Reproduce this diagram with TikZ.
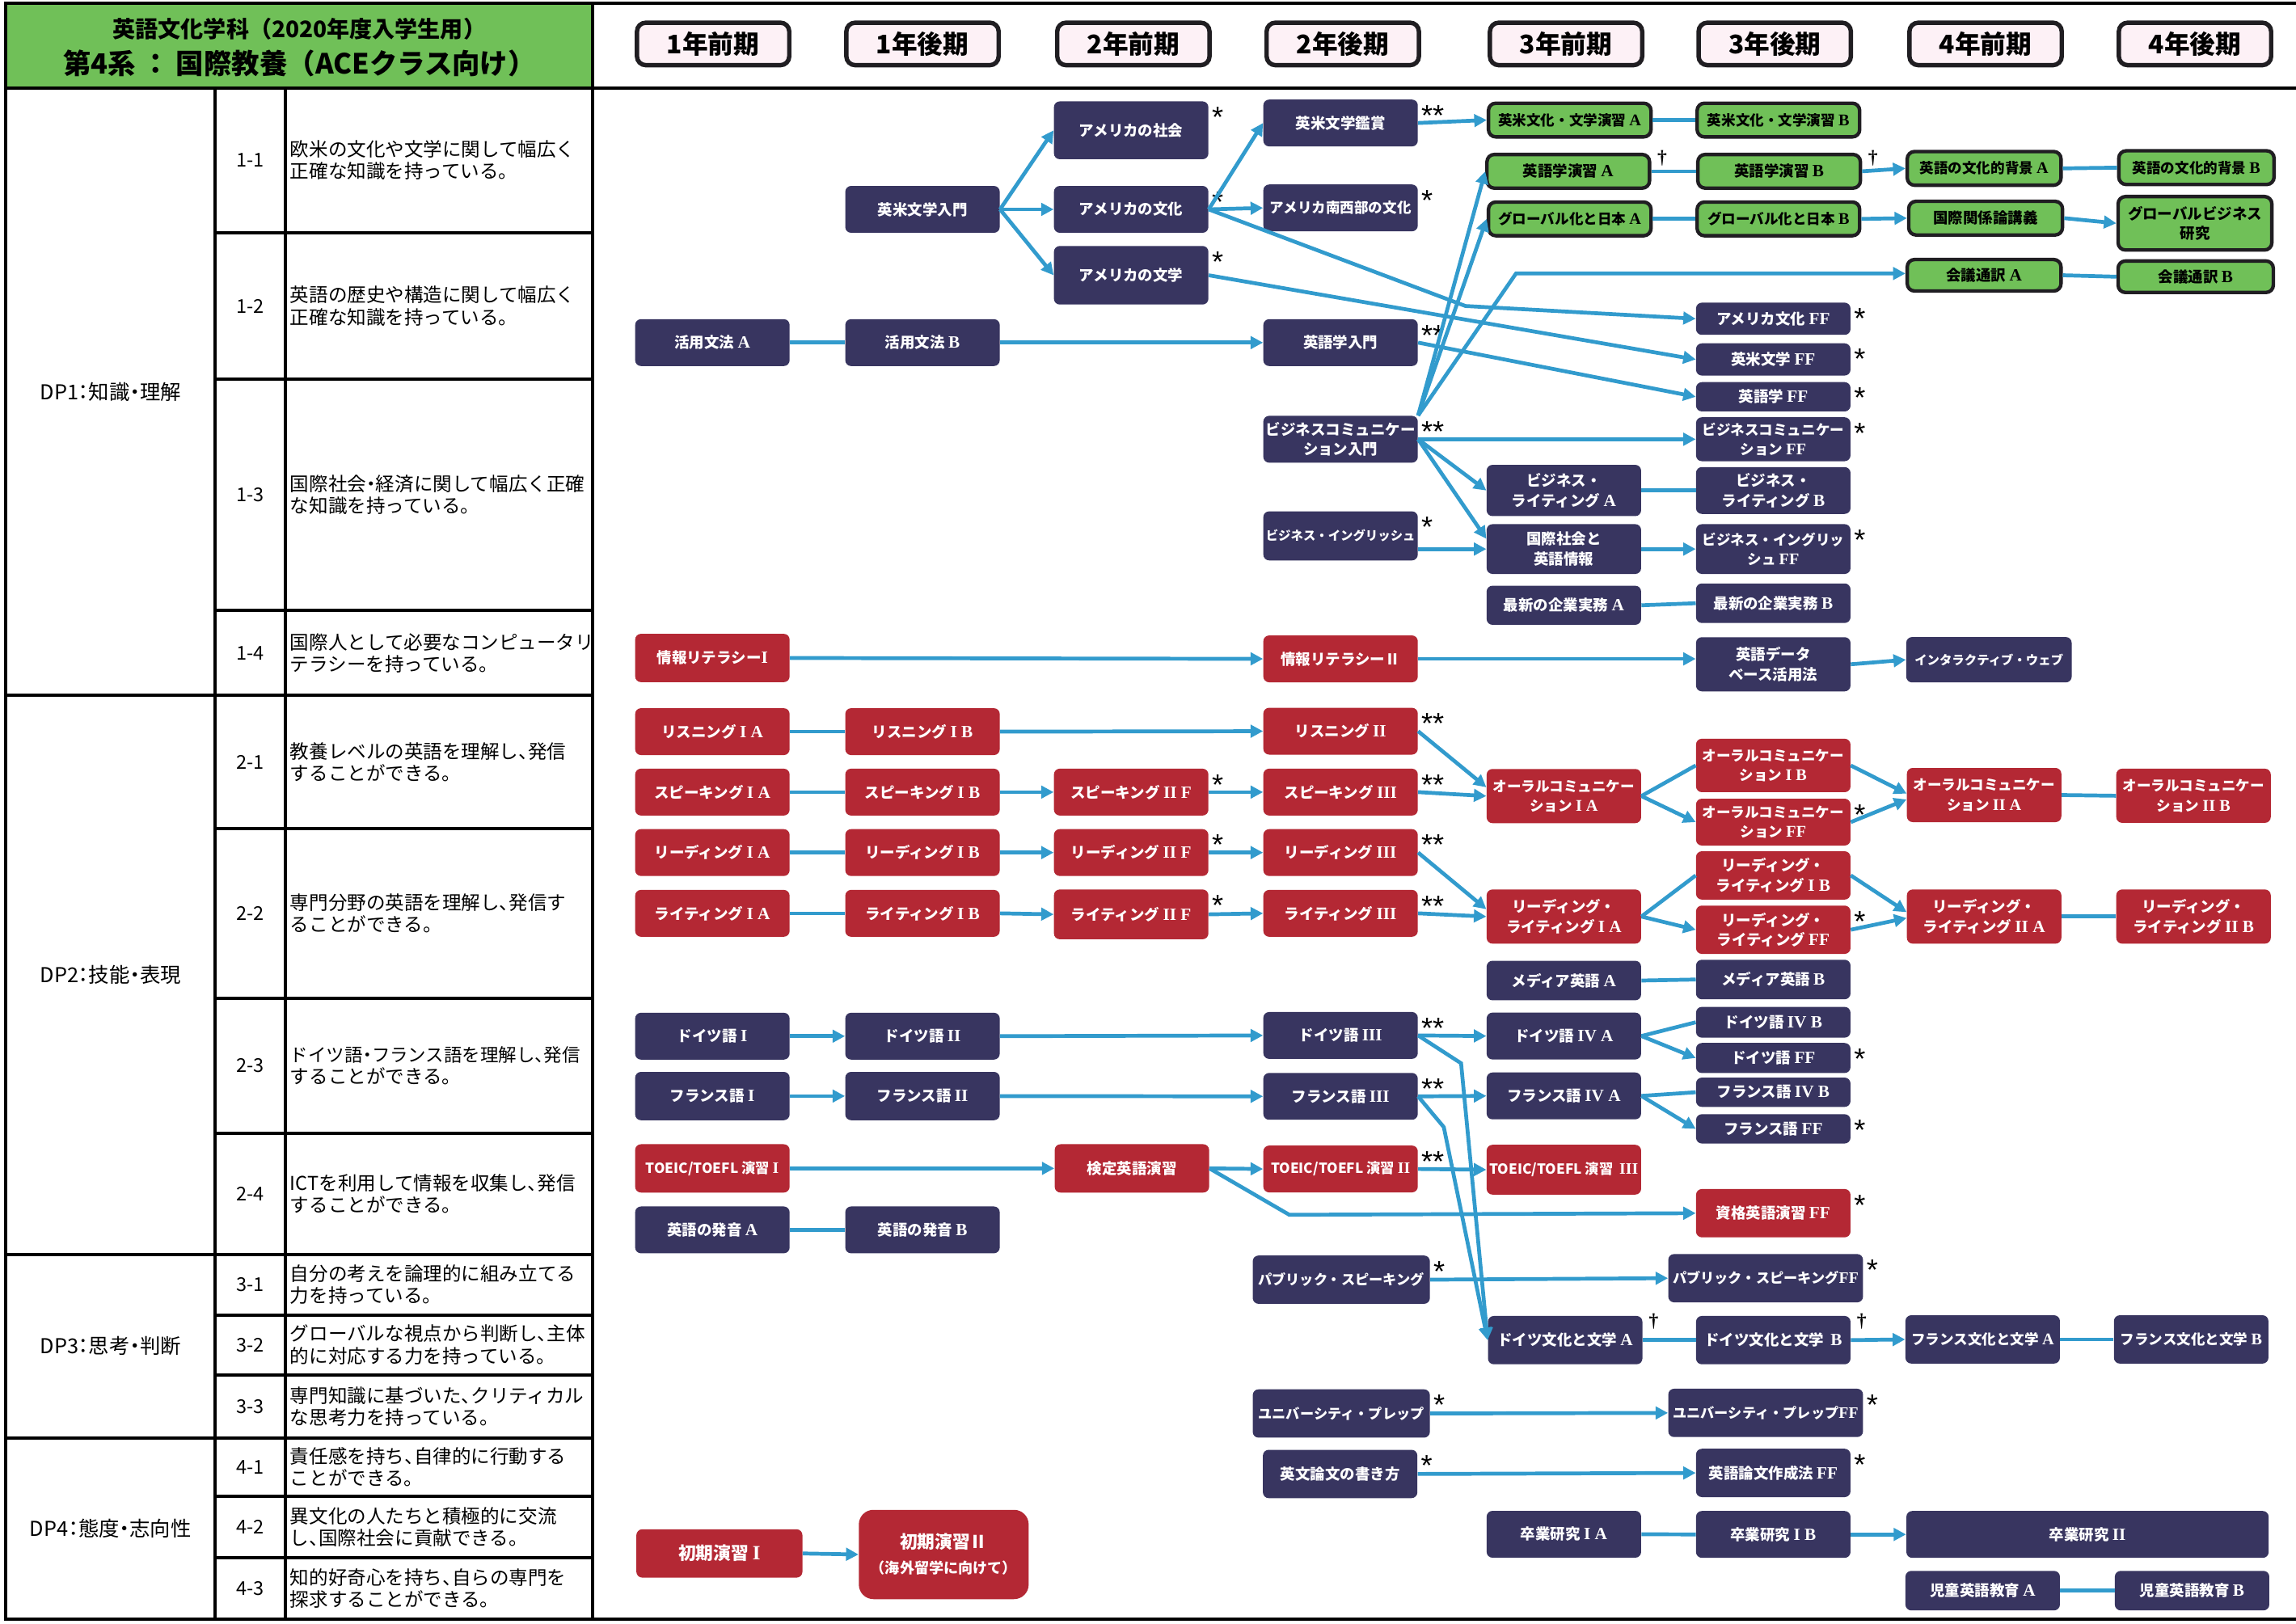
\documentclass[tikz,border=0pt]{standalone}
\usepackage{fontspec}
\setmainfont{Noto Sans CJK JP}
\newfontfamily\tabfont{Noto Sans CJK JP}[RawFeature=+halt]
\newfontfamily\rlfont{Liberation Serif}[Scale=1.15]
\newfontfamily\astfont{Liberation Sans}
\newfontfamily\dagfont{Liberation Serif}
\usetikzlibrary{arrows.meta}
\definecolor{navy}{RGB}{56,53,96}
\definecolor{crim}{RGB}{180,40,52}
\definecolor{leaf}{RGB}{112,192,88}
\definecolor{edge}{RGB}{32,30,34}
\definecolor{flow}{RGB}{50,155,205}
\definecolor{pinkbg}{RGB}{253,241,246}
\newcommand\rl[1]{{\rlfont\bfseries #1}}
\begin{document}
\begin{tikzpicture}[x=1pt,y=-1pt,
  crs/.style={rounded corners=4pt,minimum width=105.5pt,minimum height=32pt,inner sep=0pt,align=center,font=\fontsize{10.2}{13.5}\selectfont\bfseries},
  nv/.style={crs,fill=navy,text=white},
  rd/.style={crs,fill=crim,text=white},
  gr/.style={crs,fill=leaf,draw=edge,line width=2.4pt,text=black,minimum width=111pt,minimum height=23pt,rounded corners=5pt},
  md/.style={font=\fontsize{9.7}{13.5}\selectfont\bfseries},
  sm/.style={font=\fontsize{9.5}{12.5}\selectfont\bfseries},
  xs/.style={font=\fontsize{8.5}{11}\selectfont\bfseries},
  sem/.style={rounded corners=6pt,fill=pinkbg,draw=edge,line width=3pt,minimum width=104pt,minimum height=29pt,font=\fontsize{17.5}{17.5}\selectfont\bfseries},
  arr/.style={draw=flow,line width=2.6pt,-{Triangle[length=8.5pt,width=8.5pt]}},
  lnk/.style={draw=flow,line width=2.6pt},
  astr/.style={anchor=north west,inner sep=0pt,xshift=2pt,yshift=-4pt,draw=none,fill=none,text=black,font=\astfont\fontsize{20}{20}\selectfont},
  dag/.style={anchor=north west,inner sep=0pt,xshift=4pt,yshift=1.5pt,draw=none,fill=none,text=black,font=\dagfont\bfseries\fontsize{13}{13}\selectfont},
  s1/.style={label={[astr]north east:*}},
  s2/.style={label={[astr]north east:**}},
  dg/.style={label={[dag]north east:†}},
  rule/.style={line width=2.2pt,line cap=rect},
  cell/.style={anchor=west,align=left,inner sep=0pt,font=\tabfont\fontsize{13}{15}\selectfont},
  num/.style={inner sep=0pt,font=\tabfont\fontsize{13}{13}\selectfont},
  dp/.style={inner sep=0pt,font=\tabfont\fontsize{14}{14}\selectfont}]
\fill[white] (0,0) rectangle (1568,1109);
\useasboundingbox (0,0) rectangle (1568,1109);
\fill[leaf] (4,2) rectangle (404.5,60);
\draw[rule] (4,2) -- (1568,2);
\draw[rule] (4,60) -- (1568,60);
\draw[rule] (4,1106) -- (1568,1106);
\foreach \xa/\ya in {4/2,404.5/2,147/60,195/60} \draw[rule] (\xa,\ya) -- (\xa,1106);
\foreach \yb in {475,857,982} \draw[rule] (4,\yb) -- (404.5,\yb);
\foreach \yb in {159,259,417,566,682,774,898,939,1022,1064} \draw[rule] (147,\yb) -- (404.5,\yb);
\node[font=\fontsize{15.5}{15.5}\selectfont\bfseries] (dept) at (204.5,20) {英語文化学科（2020年度入学生用）};
\node[font=\fontsize{19}{19}\selectfont\bfseries] (track) at (204.5,43) {第4系 ： 国際教養（ACEクラス向け）};
\node[dp] (dp1) at (75.5,267.5) {DP1：知識・理解};
\node[dp] (dp2) at (75.5,666) {DP2：技能・表現};
\node[dp] (dp3) at (75.5,919.5) {DP3：思考・判断};
\node[dp] (dp4) at (75.5,1044) {DP4：態度・志向性};
\foreach \k/\yc/\txt in {
  1-1/109.5/{欧米の文化や文学に関して幅広く\\正確な知識を持っている。},
  1-2/209/{英語の歴史や構造に関して幅広く\\正確な知識を持っている。},
  1-3/338/{国際社会・経済に関して幅広く正確\\な知識を持っている。},
  1-4/446/{国際人として必要なコンピュータリ\\テラシーを持っている。},
  2-1/520.5/{教養レベルの英語を理解し、発信\\することができる。},
  2-2/624/{専門分野の英語を理解し、発信す\\ることができる。},
  2-3/728/{\fontsize{12.4}{15}\selectfont ドイツ語・フランス語を理解し、発信\\することができる。},
  2-4/815.5/{ICTを利用して情報を収集し、発信\\することができる。},
  3-1/877.5/{自分の考えを論理的に組み立てる\\力を持っている。},
  3-2/918.5/{グローバルな視点から判断し、主体\\的に対応する力を持っている。},
  3-3/960.5/{専門知識に基づいた、クリティカル\\な思考力を持っている。},
  4-1/1002/{責任感を持ち、自律的に行動する\\ことができる。},
  4-2/1043/{異文化の人たちと積極的に交流\\し、国際社会に貢献できる。},
  4-3/1085/{知的好奇心を持ち、自らの専門を\\探求することができる。}}{
  \node[num] (n\k) at (171,\yc) {\k};
  \node[cell] (t\k) at (198,\yc) {\txt};
}
\foreach \xc/\lab [count=\i] in {487/1年前期,630/1年後期,774/2年前期,917/2年後期,1069.5/3年前期,1212/3年後期,1356/4年前期,1499/4年後期}
  \node[sem] (sem\i) at (\xc,30) {\lab};
\node[nv] (eiIntro) at (630,143) {英米文学入門};
\node[nv,s1,minimum height=39.5pt] (amSoc) at (772.5,89) {アメリカの社会};
\node[nv,s1] (amCul) at (772.5,143) {アメリカの文化};
\node[nv,s1,minimum height=40pt] (amLit) at (772.5,188) {アメリカの文学};
\node[nv] (katsuA) at (486.5,234) {活用文法 \rl{A}};
\node[nv] (katsuB) at (630,234) {活用文法 \rl{B}};
\node[nv,s2] (kansho) at (915.5,84) {英米文学鑑賞};
\node[nv,md,s1] (nansei) at (915.5,142) {アメリカ南西部の文化};
\node[nv,s2] (goIntro) at (915.5,234) {英語学入門};
\node[nv,s2] (bizCom) at (915.5,300) {ビジネスコミュニケー\\ション入門};
\node[nv,xs,s1,minimum height=33.5pt] (bizEng) at (915.5,366) {ビジネス・イングリッシュ};
\node[gr,md] (semA) at (1072,82) {英米文化・文学演習 \rl{A}};
\node[gr,dg] (gsemA) at (1071,117) {英語学演習 \rl{A}};
\node[gr,md] (globA) at (1072,149.5) {グローバル化と日本 \rl{A}};
\node[gr,md] (semB) at (1214.5,82) {英米文化・文学演習 \rl{B}};
\node[gr,dg] (gsemB) at (1215,117) {英語学演習 \rl{B}};
\node[gr,md] (globB) at (1214.5,149.5) {グローバル化と日本 \rl{B}};
\node[gr,md,minimum width=105pt] (bgA) at (1355,115) {英語の文化的背景 \rl{A}};
\node[gr,md,minimum width=106pt] (bgB) at (1500,114.5) {英語の文化的背景 \rl{B}};
\node[gr,minimum width=105pt] (kokusai) at (1356,149) {国際関係論講義};
\node[gr,minimum width=105pt,minimum height=36.5pt] (gbiz) at (1499,152.5) {グローバルビジネス\\研究};
\node[gr,minimum width=105pt,minimum height=21.5pt] (tsuyakuA) at (1355,188) {会議通訳 \rl{A}};
\node[gr,minimum width=106pt,minimum height=21.5pt] (tsuyakuB) at (1499.5,189) {会議通訳 \rl{B}};
\node[nv,s1,minimum height=22pt] (amFF) at (1211,217.7) {アメリカ文化 \rl{FF}};
\node[nv,s1,minimum height=22pt] (eiFF) at (1211,245.5) {英米文学 \rl{FF}};
\node[nv,s1,minimum height=20pt] (goFF) at (1211,271) {英語学 \rl{FF}};
\node[nv,md,s1,minimum height=30pt] (bizComFF) at (1211,300) {ビジネスコミュニケー\\ション \rl{FF}};
\node[nv,minimum height=35pt] (bwA) at (1068,335) {ビジネス・\\ライティング \rl{A}};
\node[nv] (bwB) at (1211,335) {ビジネス・\\ライティング \rl{B}};
\node[nv,minimum height=34pt] (kokuEng) at (1068,375) {国際社会と\\英語情報};
\node[nv,md,s1,minimum height=34pt] (bizEngFF) at (1211,375) {ビジネス・イングリッ\\シュ \rl{FF}};
\node[nv,minimum height=26.7pt] (jitsuA) at (1068,413.4) {最新の企業実務 \rl{A}};
\node[nv,minimum height=27pt] (jitsuB) at (1211,412) {最新の企業実務 \rl{B}};
\node[rd,minimum height=33pt] (jouhoI) at (486.5,449.4) {情報リテラシー\rl{I}};
\node[rd] (jouhoII) at (915.5,450) {情報リテラシーⅡ};
\node[nv,minimum height=37pt] (dbase) at (1211,453.7) {英語データ\\ベース活用法};
\node[nv,xs,minimum width=113pt,minimum height=31pt] (iweb) at (1358.3,450.6) {インタラクティブ・ウェブ};
\node[rd] (lisIA) at (486.5,499.7) {リスニング \rl{I A}};
\node[rd] (lisIB) at (630,499.7) {リスニング \rl{I B}};
\node[rd,s2] (lisII) at (915.5,499.4) {リスニング \rl{II}};
\node[rd] (spIA) at (486.5,541) {スピーキング \rl{I A}};
\node[rd] (spIB) at (630,541) {スピーキング \rl{I B}};
\node[rd,s1] (spIIF) at (772.5,541) {スピーキング \rl{II F}};
\node[rd,s2] (spIII) at (915.5,541) {スピーキング \rl{III}};
\node[rd] (rdIA) at (486.5,582.3) {リーディング \rl{I A}};
\node[rd] (rdIB) at (630,582.3) {リーディング \rl{I B}};
\node[rd,s1] (rdIIF) at (772.5,582.3) {リーディング \rl{II F}};
\node[rd,s2] (rdIII) at (915.5,582.3) {リーディング \rl{III}};
\node[rd] (wrIA) at (486.5,623.8) {ライティング \rl{I A}};
\node[rd] (wrIB) at (630,623.8) {ライティング \rl{I B}};
\node[rd,s1,minimum height=34pt] (wrIIF) at (772.5,624.5) {ライティング \rl{II F}};
\node[rd,s2] (wrIII) at (915.5,623.8) {ライティング \rl{III}};
\node[rd,md,minimum height=37pt] (oralIA) at (1068,543.7) {オーラルコミュニケー\\ション \rl{I A}};
\node[rd,md,minimum height=36.5pt] (oralIB) at (1211,522.8) {オーラルコミュニケー\\ション \rl{I B}};
\node[rd,md,s1] (oralFF) at (1211,561.5) {オーラルコミュニケー\\ション \rl{FF}};
\node[rd,md,minimum height=37pt] (oralIIA) at (1355,543) {オーラルコミュニケー\\ション \rl{II A}};
\node[rd,md,minimum height=37pt] (oralIIB) at (1498,543.5) {オーラルコミュニケー\\ション \rl{II B}};
\node[rd,minimum height=37pt] (rwIA) at (1068,626) {リーディング・\\ライティング \rl{I A}};
\node[rd,minimum height=33pt] (rwIB) at (1211,597.9) {リーディング・\\ライティング \rl{I B}};
\node[rd,s1,minimum height=33pt] (rwFF) at (1211,635) {リーディング・\\ライティング \rl{FF}};
\node[rd,minimum height=37pt] (rwIIA) at (1355,626) {リーディング・\\ライティング \rl{II A}};
\node[rd,minimum height=37pt] (rwIIB) at (1498,626) {リーディング・\\ライティング \rl{II B}};
\node[nv,minimum height=27pt] (mediaA) at (1068,669.7) {メディア英語 \rl{A}};
\node[nv,minimum height=27pt] (mediaB) at (1211,669) {メディア英語 \rl{B}};
\node[nv] (deI) at (486.5,707.7) {ドイツ語 \rl{I}};
\node[nv] (deII) at (630,707.7) {ドイツ語 \rl{II}};
\node[nv,s2] (deIII) at (915.5,707.2) {ドイツ語 \rl{III}};
\node[nv] (deIVA) at (1068,707.6) {ドイツ語 \rl{IV A}};
\node[nv,minimum height=21pt] (deIVB) at (1211,698.2) {ドイツ語 \rl{IV B}};
\node[nv,s1,minimum height=20.5pt] (deFF) at (1211,722.6) {ドイツ語 \rl{FF}};
\node[nv,minimum height=33pt] (frI) at (486.5,748.6) {フランス語 \rl{I}};
\node[nv,minimum height=33pt] (frII) at (630,748.6) {フランス語 \rl{II}};
\node[nv,s2] (frIII) at (915.5,748.8) {フランス語 \rl{III}};
\node[nv] (frIVA) at (1068,748.5) {フランス語 \rl{IV A}};
\node[nv,minimum height=20pt] (frIVB) at (1211,746) {フランス語 \rl{IV B}};
\node[nv,s1,minimum height=20pt] (frFF) at (1211,771) {フランス語 \rl{FF}};
\node[rd,sm,minimum height=33pt] (toeI) at (486.5,798) {TOEIC/TOEFL 演習 \rl{I}};
\node[rd,minimum height=33pt] (kentei) at (773,798) {検定英語演習};
\node[rd,sm,s2] (toeII) at (915.5,798.4) {TOEIC/TOEFL 演習 \rl{II}};
\node[rd,sm,minimum height=34pt] (toeIII) at (1068,798.9) {TOEIC/TOEFL 演習\ \ \rl{III}};
\node[rd,s1,minimum height=33pt] (shikaku) at (1211,828.6) {資格英語演習 \rl{FF}};
\node[nv] (hatsuA) at (486.5,840) {英語の発音 \rl{A}};
\node[nv] (hatsuB) at (630,840) {英語の発音 \rl{B}};
\node[nv,sm,s1,minimum width=121pt,minimum height=33pt] (pubSp) at (916,874) {パブリック・スピーキング};
\node[nv,sm,s1,minimum width=133pt,minimum height=33pt] (pubSpFF) at (1205.8,873) {パブリック・スピーキング\rl{FF}};
\node[nv,dg,minimum height=33pt] (deCulA) at (1068.9,915.3) {ドイツ文化と文学 \rl{A}};
\node[nv,dg,minimum height=33pt] (deCulB) at (1211,915.3) {ドイツ文化と文学\ \ \rl{B}};
\node[nv,md,minimum height=33pt] (frCulA) at (1354,914.8) {フランス文化と文学 \rl{A}};
\node[nv,md,minimum height=33pt] (frCulB) at (1496.4,914.8) {フランス文化と文学 \rl{B}};
\node[nv,sm,s1,minimum width=121pt,minimum height=33pt] (uPrep) at (916,965.4) {ユニバーシティ・プレップ};
\node[nv,sm,s1,minimum width=133pt,minimum height=33pt] (uPrepFF) at (1205.8,965) {ユニバーシティ・プレップ\rl{FF}};
\node[nv,s1,minimum height=33pt] (ronbun) at (915.2,1006.7) {英文論文の書き方};
\node[nv,s1,minimum height=33pt] (ronbunFF) at (1211,1006) {英語論文作成法 \rl{FF}};
\node[nv] (sotsuIA) at (1068,1047.9) {卒業研究 \rl{I A}};
\node[nv] (sotsuIB) at (1211,1048) {卒業研究 \rl{I B}};
\node[nv,minimum width=247.4pt] (sotsuII) at (1425.6,1048) {卒業研究 \rl{II}};
\node[nv,minimum height=27pt] (jidoA) at (1354,1086.4) {児童英語教育 \rl{A}};
\node[nv,minimum height=27pt] (jidoB) at (1497,1086.4) {児童英語教育 \rl{B}};
\node[rd,minimum width=113.4pt,minimum height=33pt,font=\fontsize{12}{15}\selectfont\bfseries] (shokiI) at (491.3,1061) {初期演習 \rl{I}};
\node[rd,minimum width=116pt,minimum height=61pt,rounded corners=10pt,font=\fontsize{12}{17}\selectfont\bfseries] (shokiII) at (644.5,1061.7) {初期演習Ⅱ\\{\fontsize{10}{12}\selectfont（海外留学に向けて）}};
\coordinate (k1) at (1000.8,209);
\coordinate (k2) at (1035.3,186.8);
\coordinate (k3) at (997.8,726.2);
\coordinate (k4) at (986,769.8);
\coordinate (k5) at (880.5,829.7);
\draw[arr] (eiIntro.east) -- (amSoc.west);
\draw[arr] (eiIntro.east) -- (amCul.west);
\draw[arr] (eiIntro.east) -- (amLit.west);
\draw[lnk] (katsuA.east) -- (katsuB.west);
\draw[arr] (katsuB.east) -- (goIntro.west);
\draw[arr] (amCul.east) -- (kansho.west);
\draw[arr] (amCul.east) -- (nansei.west);
\draw[arr] (amCul.east) -- (k1) -- (amFF.west);
\draw[arr] (amLit.east) -- (eiFF.west);
\draw[arr] (goIntro.east) -- (goFF.west);
\draw[arr] (kansho.east) -- (semA.west);
\draw[lnk] (semA.east) -- (semB.west);
\draw[lnk] (gsemA.east) -- (gsemB.west);
\draw[arr] (gsemB.east) -- (bgA.west);
\draw[lnk] (bgA.east) -- (bgB.west);
\draw[lnk] (globA.east) -- (globB.west);
\draw[arr] (globB.east) -- (kokusai.west);
\draw[arr] (kokusai.east) -- (gbiz.west);
\draw[lnk] (tsuyakuA.east) -- (tsuyakuB.west);
\draw[arr] (bizCom.north east) -- (gsemA.west);
\draw[arr] (bizCom.north east) -- (globA.west);
\draw[arr] (bizCom.north east) -- (k2) -- (k2 -| tsuyakuA.west);
\draw[arr] (bizCom.east) -- (bizComFF.west);
\draw[arr] (bizCom.east) -- (bwA.west);
\draw[arr] (bizCom.east) -- ([yshift=7pt]kokuEng.west);
\draw[arr] (bizEng.east |- kokuEng.west) -- (kokuEng.west);
\draw[lnk] (bwA.east) -- (bwB.west);
\draw[arr] (kokuEng.east) -- (bizEngFF.west);
\draw[lnk] (jitsuA.east) -- (jitsuB.west);
\draw[arr] (jouhoI.east) -- (jouhoII.west);
\draw[arr] (jouhoII.east) -- (jouhoII.east -| dbase.west);
\draw[arr] (dbase.east) -- (iweb.west);
\draw[lnk] (lisIA.east) -- (lisIB.west);
\draw[arr] (lisIB.east) -- (lisII.west);
\draw[arr] (lisII.east) -- ([yshift=6pt]oralIA.west);
\draw[lnk] (spIA.east) -- (spIB.west);
\draw[arr] (spIB.east) -- (spIIF.west);
\draw[arr] (spIIF.east) -- (spIII.west);
\draw[arr] (spIII.east) -- (oralIA.west);
\draw[lnk] (rdIA.east) -- (rdIB.west);
\draw[arr] (rdIB.east) -- (rdIIF.west);
\draw[arr] (rdIIF.east) -- (rdIII.west);
\draw[arr] (rdIII.east) -- ([yshift=5pt]rwIA.west);
\draw[lnk] (wrIA.east) -- (wrIB.west);
\draw[arr] (wrIB.east) -- (wrIIF.west);
\draw[arr] (wrIIF.east) -- (wrIII.west);
\draw[arr] (wrIII.east) -- (rwIA.west);
\draw[lnk] (oralIA.east) -- (oralIB.west);
\draw[arr] (oralIA.east) -- (oralFF.west);
\draw[arr] (oralIB.east) -- ([yshift=1pt]oralIIA.west);
\draw[arr] (oralFF.east) -- ([yshift=-3pt]oralIIA.west);
\draw[lnk] (oralIIA.east) -- (oralIIB.west);
\draw[lnk] (rwIA.east) -- (rwIB.west);
\draw[arr] (rwIA.east) -- (rwFF.west);
\draw[arr] (rwIB.east) -- ([yshift=3pt]rwIIA.west);
\draw[arr] (rwFF.east) -- ([yshift=-1pt]rwIIA.west);
\draw[lnk] (rwIIA.east) -- (rwIIB.west);
\draw[lnk] (mediaA.east) -- (mediaB.west);
\draw[arr] (deI.east) -- (deII.west);
\draw[arr] (deII.east) -- (deIII.west);
\draw[arr] (deIII.east) -- (deIVA.west);
\draw[lnk] (deIVA.east) -- (deIVB.west);
\draw[arr] (deIVA.east) -- (deFF.west);
\draw[arr] (frI.east) -- (frII.west);
\draw[arr] (frII.east) -- (frIII.west);
\draw[arr] (frIII.east) -- (frIVA.west);
\draw[lnk] (frIVA.east) -- (frIVB.west);
\draw[arr] (frIVA.east) -- (frFF.west);
\draw[arr] (deIII.east) -- (k3) -- (deCulA.west);
\draw[arr] (frIII.east) -- (k4) -- (deCulA.west);
\draw[arr] (toeI.east) -- (kentei.west);
\draw[arr] (kentei.east) -- (toeII.west);
\draw[arr] (kentei.east) -- (k5) -- (shikaku.west);
\draw[arr] (toeII.east) -- (toeIII.west);
\draw[lnk] (hatsuA.east) -- (hatsuB.west);
\draw[arr] (pubSp.east) -- (pubSpFF.west);
\draw[lnk] (deCulA.east) -- (deCulB.west);
\draw[arr] (deCulB.east) -- (frCulA.west);
\draw[lnk] (frCulA.east) -- (frCulB.west);
\draw[arr] (uPrep.east) -- (uPrepFF.west);
\draw[arr] (ronbun.east) -- (ronbunFF.west);
\draw[lnk] (sotsuIA.east) -- (sotsuIB.west);
\draw[arr] (sotsuIB.east) -- (sotsuII.west);
\draw[lnk] (jidoA.east) -- (jidoB.west);
\draw[arr] (shokiI.east) -- (shokiII.west);
\end{tikzpicture}
\end{document}
